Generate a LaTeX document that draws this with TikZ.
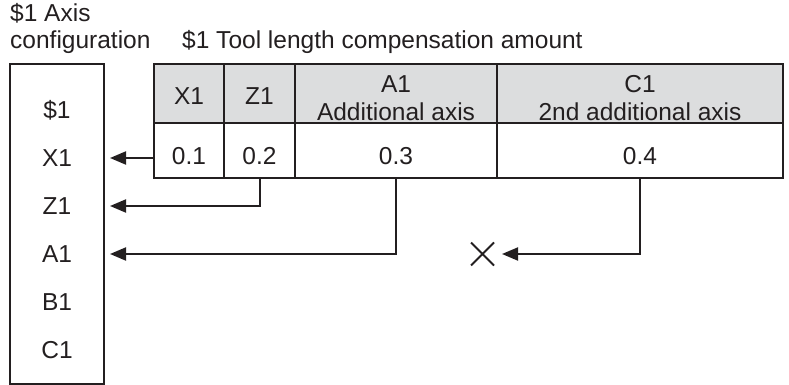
\documentclass[tikz,border=0pt]{standalone}
\usepackage{fontspec}
\setmainfont{Liberation Sans}
\usetikzlibrary{arrows.meta, positioning, shapes.misc}
\definecolor{headgray}{RGB}{220,221,222}
\definecolor{ink}{RGB}{35,31,32}
\tikzset{
  axbox/.style={draw=ink, line width=2pt, outer sep=0pt, inner sep=0pt},
  axlbl/.style={text=ink, inner sep=0pt, text height=17.5pt, text depth=0pt},
  hcell/.style={draw=ink, line width=2pt, fill=headgray, outer sep=0pt,
                inner sep=0pt, minimum height=59pt, align=center, text=ink},
  vcell/.style={draw=ink, line width=2pt, fill=white, outer sep=0pt,
                inner sep=0pt, minimum height=55pt, text height=27.5pt,
                text depth=0pt, text=ink},
  title/.style={anchor=base west, inner sep=0pt, text=ink},
  conn/.style={draw=ink, line width=2pt, -{Triangle[length=16pt,width=13pt]}},
  nocomp/.style={cross out, draw=ink, line width=2pt, minimum size=21pt,
                 inner sep=0pt}
}

\begin{document}
\begin{tikzpicture}[x=1pt, y=-1pt, font=\fontsize{24.5}{28}\selectfont]
  \useasboundingbox (0,0) rectangle (789,385);

  % Titles
  \node[title] (axtitle) at (10,22) {\$1 Axis};
  \node[title] (axtitlb) at (10,49) {configuration};
  \node[title] (tltitle) at (182,49) {\$1 Tool length compensation amount};

  % Axis configuration box
  \node[axbox, anchor=north west, minimum width=94pt, minimum height=320pt]
    (axcfg) at (10,64) {};
  \foreach \n/\t [count=\i from 0] in {S/\$1, X/X1, Z/Z1, A/A1, B/B1, C/C1}
    \node[axlbl] (ax\n) at (57,{110+48*\i}) {\t};
  \coordinate (boxedge) at ([xshift=6pt]axcfg.east);

  % Compensation table: header row
  \node[hcell, anchor=north west, minimum width=70pt, text height=22.5pt,
        text depth=0pt] (hX) at (154,64) {X1};
  \node[hcell, right=0pt of hX, minimum width=71pt, text height=22.5pt,
        text depth=0pt] (hZ) {Z1};
  \node[hcell, right=0pt of hZ, minimum width=202pt, text height=54.5pt,
        text depth=0pt] (hA) {A1\\Additional axis};
  \node[hcell, right=0pt of hA, minimum width=286pt, text height=54.5pt,
        text depth=0pt] (hC) {C1\\2nd additional axis};

  % Compensation table: values
  \node[vcell, below=0pt of hX, minimum width=70pt] (vX) {0.1};
  \node[vcell, below=0pt of hZ, minimum width=71pt] (vZ) {0.2};
  \node[vcell, below=0pt of hA, minimum width=202pt] (vA) {0.3};
  \node[vcell, below=0pt of hC, minimum width=286pt] (vC) {0.4};

  % Not assigned
  \node[nocomp] (nocomp) at (482.5,254) {};

  % Arrows
  \draw[conn] (vX.west |- axX) -- (boxedge |- axX);
  \draw[conn] (vZ.south) |- (boxedge |- axZ);
  \draw[conn] (vA.south) |- (boxedge |- axA);
  \draw[conn] (vC.south) |- ([xshift=8pt]nocomp.east);
\end{tikzpicture}
\end{document}
